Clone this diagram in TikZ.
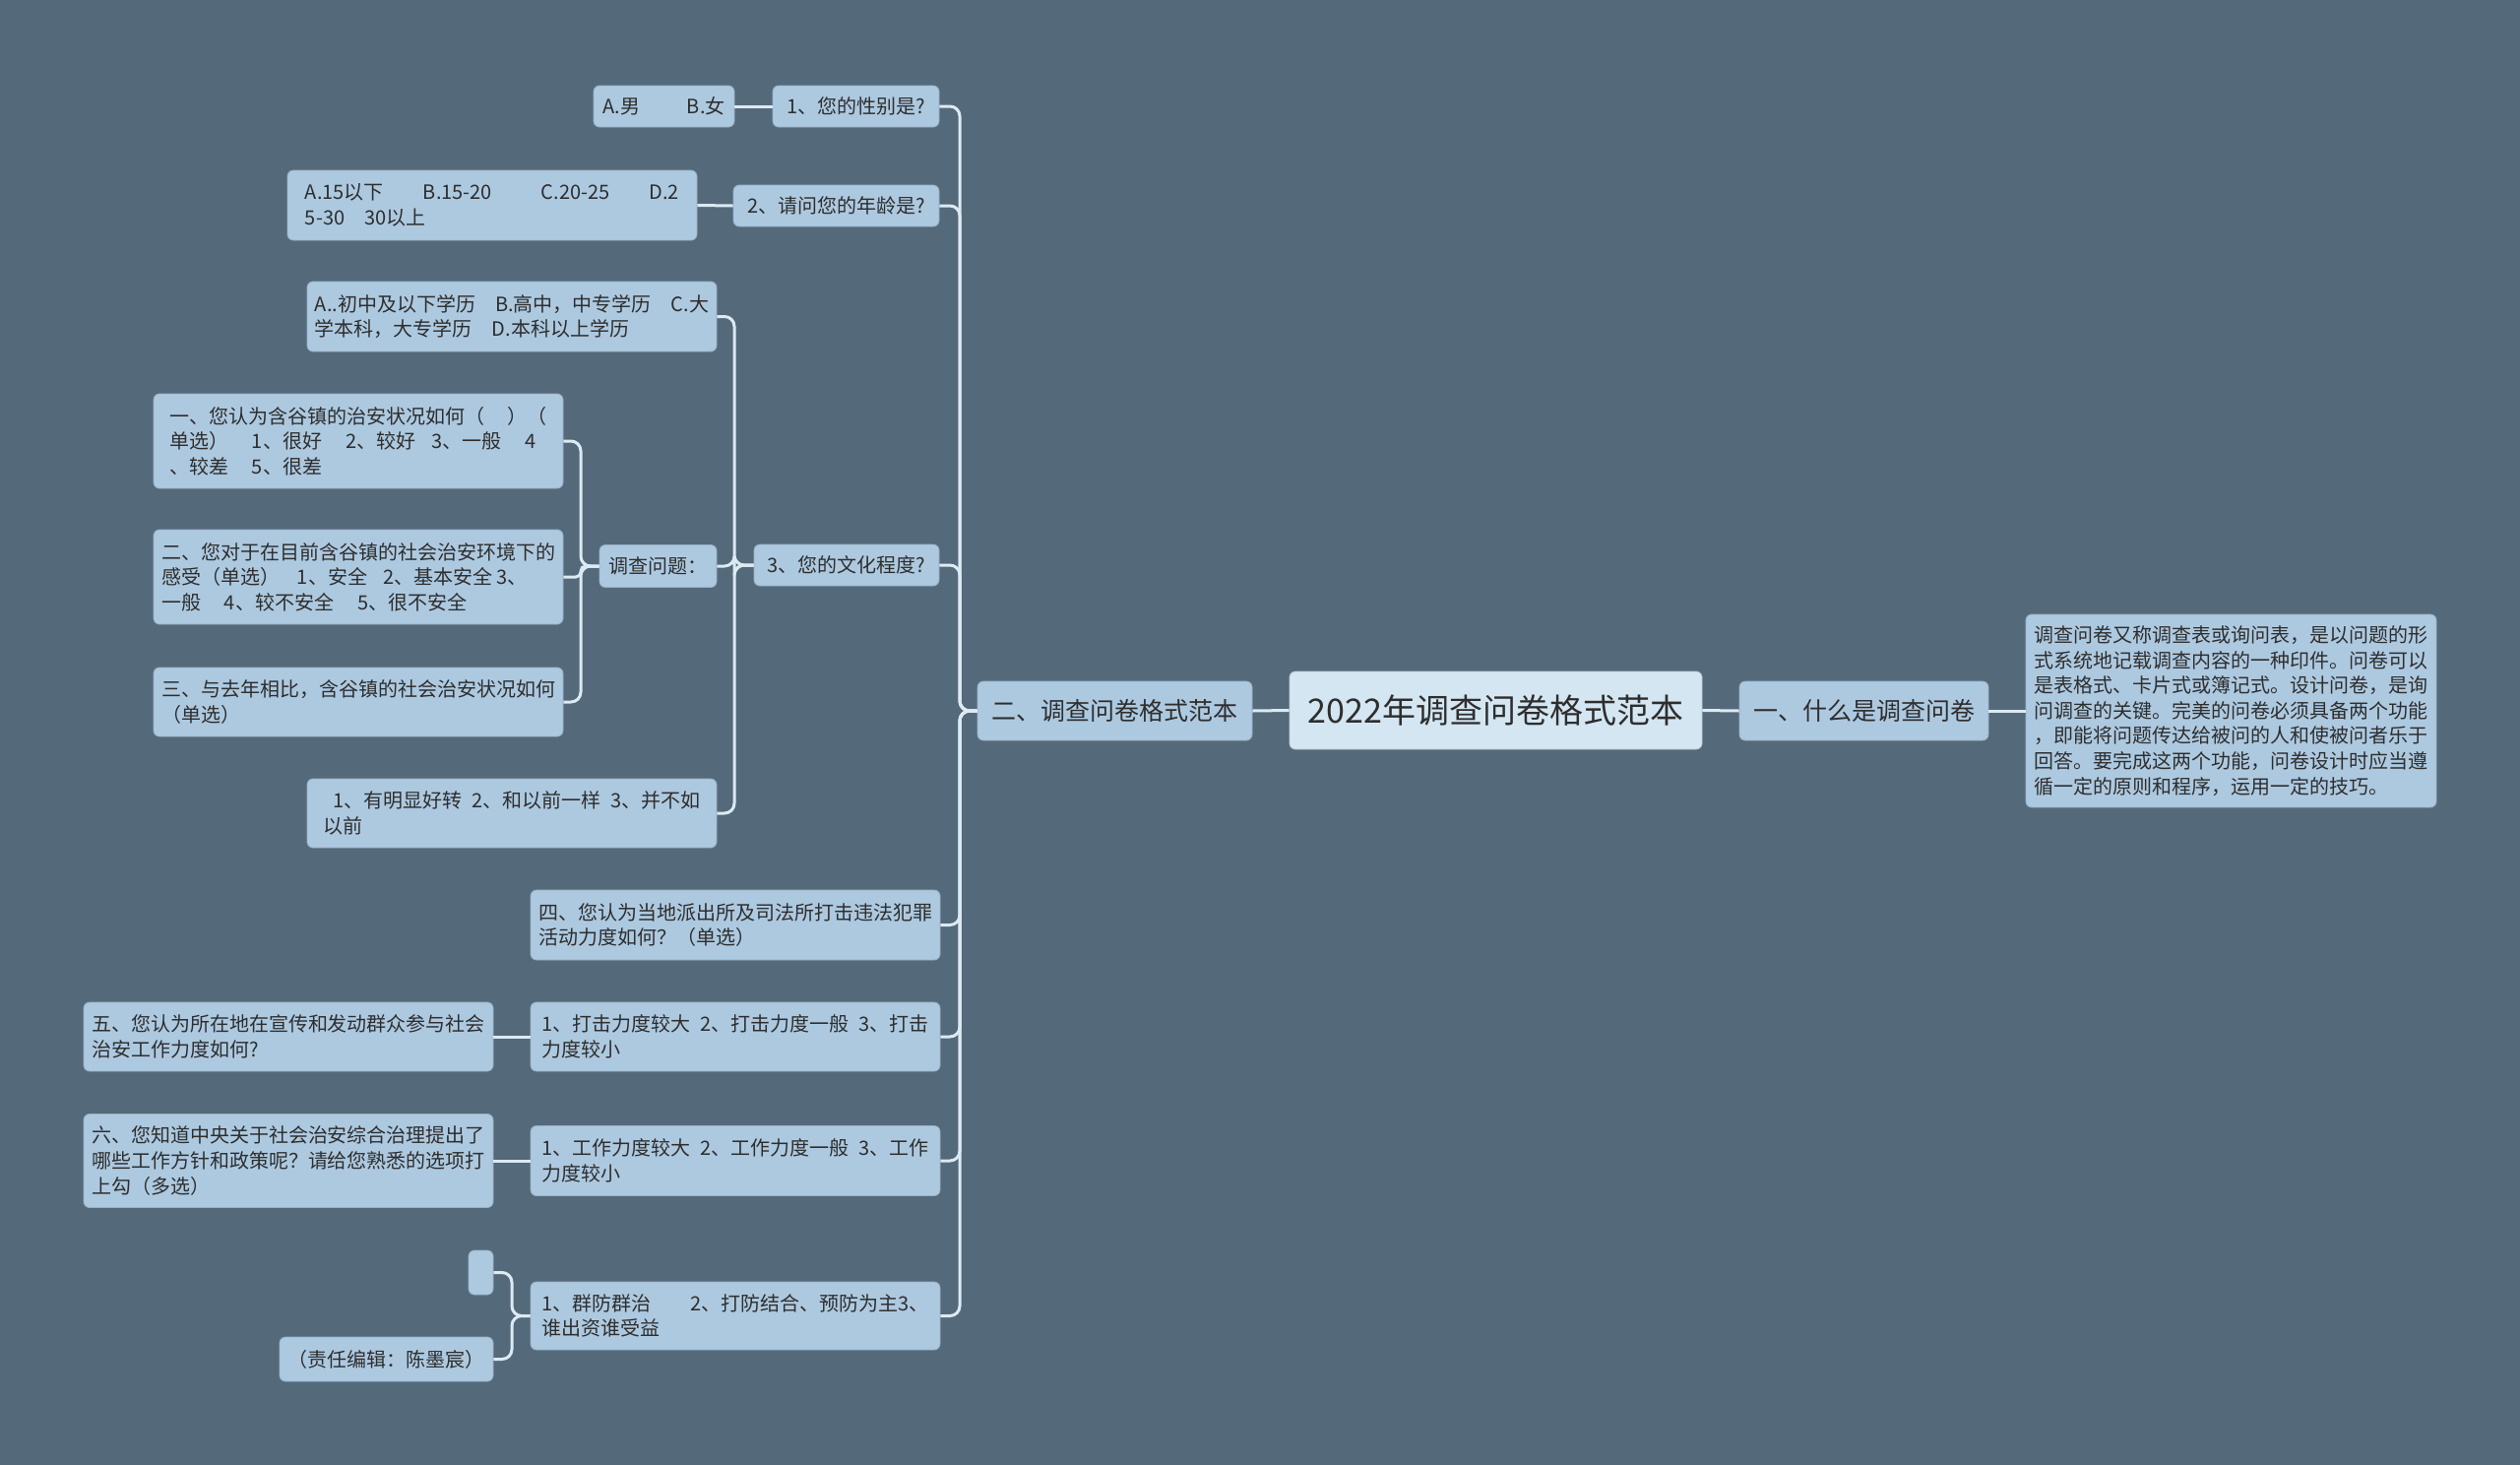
\documentclass[tikz,border=0pt]{standalone}
\usepackage{fontspec}
\setmainfont{Noto Sans CJK SC}
\definecolor{bg}{HTML}{546A7B}
\definecolor{nodefill}{HTML}{ADC9E0}
\definecolor{rootfill}{HTML}{D4E6F2}
\definecolor{linec}{HTML}{DCEAF4}
\definecolor{txt}{HTML}{2E2E2E}
\begin{document}
\begin{tikzpicture}[x=0.5pt,y=-0.5pt,
  box/.style={rectangle, rounded corners=3pt, fill=nodefill, draw=nodefill!88!black, line width=0.4pt,
    text=txt, align=left, inner sep=0pt, font=\fontsize{10}{12.8}\selectfont},
  rootbox/.style={box, fill=rootfill, draw=rootfill!88!black, font=\fontsize{17}{20}\selectfont},
  mainbox/.style={box, font=\fontsize{12.5}{15}\selectfont},
  conn/.style={draw=linec, line width=1.5pt, rounded corners=5pt},
  connsmall/.style={draw=linec, line width=1.5pt, rounded corners=2.5pt},
]
\useasboundingbox (0,0) rectangle (2560,1488);
\fill[bg] (0,0) rectangle (2560,1488);

% root and main branches
\node[rootbox, minimum width=209.5pt, minimum height=39.5pt] (root) at (1519.5,721.5) {2022年调查问卷格式范本};
\node[mainbox, minimum width=126.5pt, minimum height=30pt] (r1) at (1893.5,722) {一、什么是调查问卷};
\node[box, minimum width=208.5pt, minimum height=98pt] (rleaf) at (2266.5,722) {调查问卷又称调查表或询问表，是以问题的形\\式系统地记载调查内容的一种印件。问卷可以\\是表格式、卡片式或簿记式。设计问卷，是询\\问调查的关键。完美的问卷必须具备两个功能\\，即能将问题传达给被问的人和使被问者乐于\\回答。要完成这两个功能，问卷设计时应当遵\\循一定的原则和程序，运用一定的技巧。};
\node[mainbox, minimum width=139.5pt, minimum height=30pt] (l1) at (1132.5,722) {二、调查问卷格式范本};

% level 2
\node[box, minimum width=84.5pt, minimum height=21pt] (q1) at (869.5,108) {1、您的性别是?};
\node[box, minimum width=104.5pt, minimum height=21pt] (q2) at (849.5,209) {2、请问您的年龄是?};
\node[box, minimum width=94pt, minimum height=21pt] (q3) at (860,574) {3、您的文化程度?};
\node[box, minimum width=208pt, minimum height=35.5pt] (q4) at (747,939.5) {四、您认为当地派出所及司法所打击违法犯罪\\活动力度如何？（单选）};
\node[box, minimum width=208pt, minimum height=35pt] (q5) at (747,1053) {1、打击力度较大\hspace{0.5em}2、打击力度一般\hspace{0.5em}3、打击\\力度较小};
\node[box, minimum width=208pt, minimum height=35.5pt] (q6) at (747,1179) {1、工作力度较大\hspace{0.5em}2、工作力度一般\hspace{0.5em}3、工作\\力度较小};
\node[box, minimum width=208pt, minimum height=34.5pt] (q7) at (747,1336.5) {1、群防群治\hspace{2em}2、打防结合、预防为主3、\\谁出资谁受益};

% leaves
\node[box, minimum width=71.5pt, minimum height=21pt] (a1) at (674.5,108) {A.男\hspace{2.4em}B.女};
\node[box, minimum width=208pt, minimum height=35.5pt] (a2) at (500,208.5) {A.15以下\hspace{2em}B.15-20\hspace{2.5em}C.20-25\hspace{2em}D.2\\5-30\hspace{1em}30以上};
\node[box, minimum width=208pt, minimum height=35.5pt] (a3a) at (520,321.5) {A..初中及以下学历\hspace{1em}B.高中，中专学历\hspace{1em}C.大\\学本科，大专学历\hspace{1em}D.本科以上学历};
\node[box, minimum width=59.5pt, minimum height=21.5pt] (a3b) at (668.5,575) {调查问题：};
\node[box, minimum width=208pt, minimum height=35pt] (a3c) at (520,826) {\hspace{0.5em}1、有明显好转\hspace{0.5em}2、和以前一样\hspace{0.5em}3、并不如\\以前};
\node[box, minimum width=208pt, minimum height=48pt] (b1) at (364,448) {一、您认为含谷镇的治安状况如何（\hspace{1.2em}）（\\单选）\hspace{1.2em}1、很好\hspace{1.2em}2、较好\hspace{0.8em}3、一般\hspace{1.2em}4\\、较差\hspace{1.2em}5、很差};
\node[box, minimum width=208pt, minimum height=48pt] (b2) at (364,586) {二、您对于在目前含谷镇的社会治安环境下的\\感受（单选）\hspace{0.9em}1、安全\hspace{0.8em}2、基本安全 3、\\一般\hspace{1.2em}4、较不安全\hspace{1.2em}5、很不安全};
\node[box, minimum width=208pt, minimum height=35pt] (b3) at (364,713) {三、与去年相比，含谷镇的社会治安状况如何\\（单选）};
\node[box, minimum width=208pt, minimum height=35pt] (a5) at (293,1053) {五、您认为所在地在宣传和发动群众参与社会\\治安工作力度如何?};
\node[box, minimum width=208pt, minimum height=47.5pt] (a6) at (293,1179) {六、您知道中央关于社会治安综合治理提出了\\哪些工作方针和政策呢？请给您熟悉的选项打\\上勾（多选）};
\node[box, minimum width=12.5pt, minimum height=22.5pt] (a7a) at (488.5,1292.5) {};
\node[box, minimum width=108.5pt, minimum height=22.5pt] (a7b) at (392.5,1380.5) {（责任编辑：陈墨宸）};

% junction points
\coordinate (sp1) at (975,722);
\coordinate (sp3) at (746,574);
\coordinate (sp4) at (590,575);
\coordinate (sp7) at (520,1336.5);

% connectors
\draw[conn] (root.west) -- (l1.east);
\draw[conn] (root.east) -- (r1.west);
\draw[conn] (r1.east) -- (rleaf.west);
\foreach \c in {q1,q2,q3,q4,q5,q6,q7} \draw[conn] (l1.west) -- (sp1) |- (\c.east);
\draw[conn] (a1.east) -- (q1.west);
\draw[conn] (a2.east) -- (q2.west);
\foreach \c in {a3a,a3b,a3c} \draw[conn] (q3.west) -- (sp3) |- (\c.east);
\foreach \c in {b1,b3} \draw[conn] (a3b.west) -- (sp4) |- (\c.east);
\draw[connsmall] (a3b.west) -- (sp4) |- (b2.east);
\draw[conn] (a5.east) -- (q5.west);
\draw[conn] (a6.east) -- (q6.west);
\foreach \c in {a7a,a7b} \draw[conn] (q7.west) -- (sp7) |- (\c.east);
\end{tikzpicture}
\end{document}
